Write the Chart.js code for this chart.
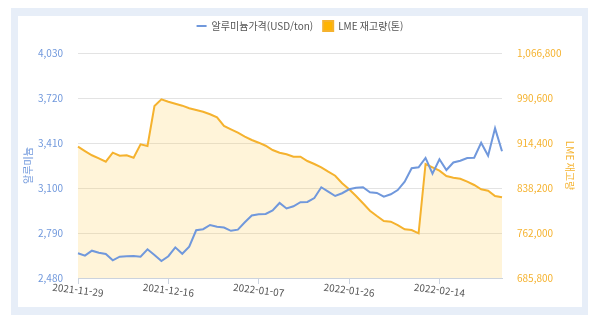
<!DOCTYPE html>
<html lang="ko">
<head>
<meta charset="utf-8">
<script src="https://cdn.jsdelivr.net/npm/chart.js@4.4.1/dist/chart.umd.min.js"></script>
<style>
  body { margin: 0; background: #fff; }
  .frame { position: absolute; left: 11px; top: 8px; width: 564px; height: 291px; padding: 8px 6px 8px 7px; background: #e7eef8; }
  .inner { width: 564px; height: 291px; background: #fff; }
</style>
</head>
<body>
<div class="frame"><div class="inner"><canvas id="chart" width="564" height="291"></canvas></div></div>
<script>
// trading days (LME)
const dates = [
  "2021-11-29", "2021-11-30", "2021-12-01", "2021-12-02", "2021-12-03", "2021-12-06", "2021-12-07",
  "2021-12-08", "2021-12-09", "2021-12-10", "2021-12-13", "2021-12-14", "2021-12-15", "2021-12-16",
  "2021-12-17", "2021-12-20", "2021-12-21", "2021-12-22", "2021-12-23", "2021-12-24", "2021-12-29",
  "2021-12-30", "2021-12-31", "2022-01-04", "2022-01-05", "2022-01-06", "2022-01-07", "2022-01-10",
  "2022-01-11", "2022-01-12", "2022-01-13", "2022-01-14", "2022-01-17", "2022-01-18", "2022-01-19",
  "2022-01-20", "2022-01-21", "2022-01-24", "2022-01-25", "2022-01-26", "2022-01-27", "2022-01-28",
  "2022-01-31", "2022-02-01", "2022-02-02", "2022-02-03", "2022-02-04", "2022-02-07", "2022-02-08",
  "2022-02-09", "2022-02-10", "2022-02-11", "2022-02-14", "2022-02-15", "2022-02-16", "2022-02-17",
  "2022-02-18", "2022-02-21", "2022-02-22", "2022-02-23", "2022-02-24", "2022-02-25"
];
const shownDates = ["2021-11-29", "2021-12-16", "2022-01-07", "2022-01-26", "2022-02-14"];

// 알루미늄가격 (USD/ton)
const aluminumPrice = [
  2650, 2634, 2668, 2654, 2645, 2602, 2627, 2630, 2632, 2627,
  2678, 2638, 2597, 2630, 2691, 2647, 2696, 2809, 2816, 2845,
  2833, 2828, 2805, 2813, 2864, 2911, 2919, 2921, 2946, 2997,
  2959, 2974, 3002, 3004, 3031, 3105, 3075, 3045, 3064, 3091,
  3102, 3105, 3070, 3066, 3040, 3057, 3086, 3143, 3236, 3243,
  3307, 3199, 3298, 3224, 3276, 3288, 3307, 3309, 3412, 3322,
  3511, 3353
];

// LME 재고량 (톤)
const lmeStock = [
  908100, 900800, 893600, 888500, 882700, 898000, 892900, 893600, 889500, 912200,
  909300, 977000, 988400, 984300, 980900, 977600, 973200, 970300, 967400, 963000,
  957900, 943200, 937600, 931800, 925100, 919500, 914900, 909800, 902500, 898000,
  895300, 891200, 891200, 883900, 878800, 873200, 865800, 859000, 846200, 836000,
  824700, 812300, 799800, 790800, 782300, 781100, 775500, 768300, 767100, 761500,
  878800, 873200, 867500, 858500, 855600, 853900, 848900, 843300, 836000, 833600,
  824700, 822400
];

const priceAxis = { min: 2480, max: 4030, step: 310 };
const stockAxis = { min: 685800, max: 1066800, step: 76200 };

const FONT = "'Noto Sans CJK KR', 'Noto Sans', sans-serif";
const BLUE = "#7098dc";
const ORANGE = "#f5b22e";

// x labels are drawn slanted down to the right, centred on the tick
const slantedDates = {
  id: "slantedDates",
  afterDraw(chart) {
    const xs = chart.scales.x;
    const ctx = chart.ctx;
    ctx.save();
    ctx.font = "10px " + FONT;
    ctx.fillStyle = "#555";
    ctx.textAlign = "center";
    ctx.textBaseline = "middle";
    xs.ticks.forEach((t, i) => {
      const px = xs.getPixelForTick(i);
      ctx.save();
      ctx.translate(px, xs.top + 12);
      ctx.rotate(7 * Math.PI / 180);
      ctx.fillText(xs.getLabelForValue(t.value), 0, 0);
      ctx.restore();
    });
    ctx.restore();
  }
};

// more room between the legend and the plot
const legendGap = {
  id: "legendGap",
  beforeInit(chart) {
    const lg = chart.legend;
    if (!lg) return;
    const fit = lg.fit;
    lg.fit = function () {
      fit.call(this);
      this.height += 12;
    };
  }
};

const fmt = (v) => v.toLocaleString("en-US");

new Chart(document.getElementById("chart"), {
  type: "line",
  data: {
    labels: dates,
    datasets: [
      {
        label: "알루미늄가격(USD/ton)",
        data: aluminumPrice,
        yAxisID: "y",
        borderColor: BLUE,
        backgroundColor: BLUE,
        borderWidth: 2,
        pointRadius: 0,
        pointStyle: "line",
        fill: false,
        tension: 0,
        order: 0
      },
      {
        label: "LME 재고량(톤)",
        data: lmeStock,
        yAxisID: "y1",
        borderColor: ORANGE,
        backgroundColor: "#ffb400",
        borderWidth: 2,
        pointRadius: 0,
        pointStyle: "rect",
        fill: { target: "start", above: "rgba(255,204,80,0.22)", below: "rgba(255,204,80,0.22)" },
        tension: 0,
        order: 1
      }
    ]
  },
  options: {
    responsive: false,
    animation: false,
    layout: { padding: { top: -5, left: 0, right: 0, bottom: 0 } },
    plugins: {
      legend: {
        position: "top",
        labels: {
          usePointStyle: true,
          pointStyleWidth: 10,
          color: "#555",
          font: { family: FONT, size: 10 },
          padding: 10
        }
      },
      tooltip: { enabled: false }
    },
    scales: {
      x: {
        afterBuildTicks: (scale) => {
          scale.ticks = scale.ticks.filter((t) => shownDates.includes(dates[t.value]));
        },
        afterFit: (scale) => { scale.height = 29; },
        grid: { drawOnChartArea: false, drawTicks: true, tickLength: 6, color: "#ccd3dd" },
        border: { color: "#ccd3dd" },
        ticks: { autoSkip: false, maxRotation: 0, color: "rgba(0,0,0,0)", font: { family: FONT, size: 10 } }
      },
      y: {
        position: "left",
        min: priceAxis.min,
        max: priceAxis.max,
        afterFit: (scale) => { scale.width = 60; },
        grid: { color: "#e3e3e3", drawTicks: false },
        border: { display: false },
        ticks: { stepSize: priceAxis.step, padding: 15, color: BLUE, font: { family: FONT, size: 10 }, callback: fmt },
        title: { display: true, text: "알루미늄", color: BLUE, font: { family: FONT, size: 10 }, padding: { top: 4, bottom: 0 } }
      },
      y1: {
        position: "right",
        min: stockAxis.min,
        max: stockAxis.max,
        afterFit: (scale) => { scale.width = 80; },
        grid: { drawOnChartArea: false, drawTicks: false },
        border: { display: false },
        ticks: { stepSize: stockAxis.step, padding: 15, color: ORANGE, font: { family: FONT, size: 10 }, callback: fmt },
        title: { display: true, text: "LME 재고량", color: ORANGE, font: { family: FONT, size: 10 }, padding: { top: 6, bottom: 0 } }
      }
    }
  },
  plugins: [slantedDates, legendGap]
});
</script>
</body>
</html>
